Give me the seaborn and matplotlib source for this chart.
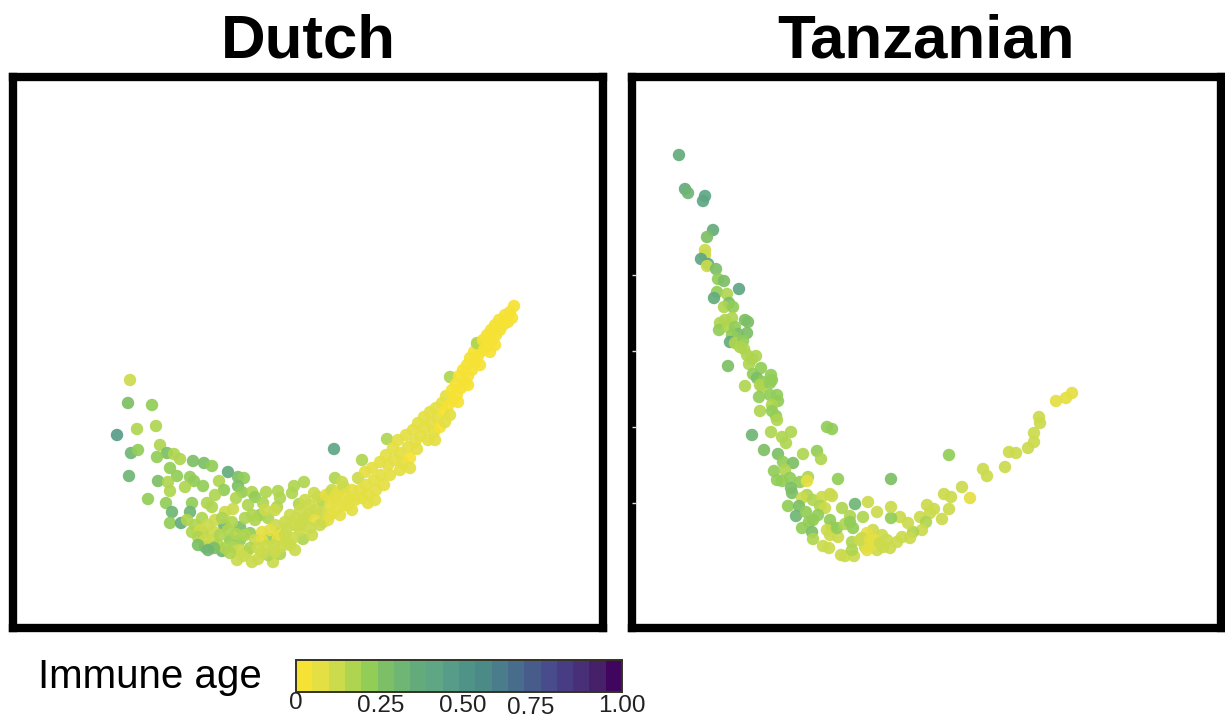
import matplotlib
matplotlib.use('Agg')
import matplotlib.pyplot as plt
import seaborn as sns
import pandas as pd
from matplotlib.colors import ListedColormap, BoundaryNorm
from matplotlib.cm import ScalarMappable

# values, x / y in panel units, age 0-1
dutch_x = [130, 128, 152, 137, 156, 117, 131, 138, 129, 160, 167, 157, 174, 180, 193, 204, 212, 170, 177, 190,
           194, 158, 168, 170, 185, 203, 219, 228, 238, 244, 238, 224, 148, 166, 215, 207, 242, 236, 252, 255,
           266, 278, 292, 294, 304, 280, 263, 248, 233, 225, 212, 192, 190, 172, 170, 181, 187, 202, 224, 240,
           260, 277, 299, 314, 322, 335, 334, 192, 203, 214, 205, 222, 210, 237, 252, 258, 273, 268, 280, 303,
           247, 230, 240, 250, 262, 280, 270, 290, 287, 303, 310, 323, 330,
           195, 200, 208, 215, 222, 232, 245, 255, 268, 275, 285, 295, 300, 198, 205, 213, 220, 228, 236, 245,
           255, 262, 270, 278, 285, 293, 218, 225, 233, 240, 250, 258, 266, 274, 282, 290, 295, 262, 275, 243,
           230, 198, 214, 208,
           305, 310, 316, 322, 330, 336, 300, 306, 315, 330, 336, 345, 350, 310, 300,
           318, 326, 332, 338, 328, 320, 340, 352, 368, 344, 335, 312, 296, 287, 275, 265, 252,
           342, 345, 348, 352, 355, 358, 360, 362, 365, 366, 368, 372, 374, 376, 380, 381, 384, 386, 387, 362,
           388, 390, 393, 395, 398, 400, 403, 406, 408, 410, 413, 415, 417, 418, 421, 424, 425, 428,
           430, 431, 434, 436, 438, 440, 442, 444, 446, 448, 450, 452, 453, 450,
           456, 457, 459, 461, 463, 465, 467, 468, 470, 472, 474, 475, 477, 478, 480, 477,
           483, 484, 487, 488, 491, 492, 495, 496, 499, 500, 503, 505, 508, 510, 514, 512,
           490, 480, 495, 468, 458, 445, 435, 410, 400, 375]
dutch_y = [380, 403, 405, 429, 426, 435, 453, 450, 476, 445, 453, 457, 454, 459, 461, 463, 466, 468, 476, 477,
           481, 481, 482, 491, 487, 486, 481, 472, 477, 478, 486, 490, 499, 503, 495, 503, 492, 498, 492, 497,
           492, 491, 493, 486, 482, 498, 503, 505, 509, 512, 507, 503, 512, 512, 523, 523, 520, 518, 525, 527,
           515, 507, 504, 493, 501, 478, 449, 532, 533, 532, 547, 551, 547, 560, 562, 559, 562, 555, 554, 539,
           552, 540, 540, 533, 532, 533, 539, 515, 542, 520, 513, 522, 493,
           525, 530, 525, 520, 518, 522, 518, 520, 518, 525, 522, 525, 530, 537, 540, 540, 535, 530, 534, 535,
           540, 540, 530, 538, 535, 538, 545, 548, 547, 550, 548, 548, 546, 545, 546, 545, 550, 553, 552, 556,
           553, 545, 548, 550,
           500, 505, 510, 512, 505, 500, 510, 518, 520, 515, 510, 505, 500, 528, 525,
           497, 495, 490, 492, 520, 525, 515, 510, 503, 487, 497, 535, 518, 528, 510, 510, 515,
           482, 495, 505, 490, 500, 478, 490, 498, 472, 485, 495, 468, 480, 490, 462, 475, 485, 455, 439, 460,
           465, 475, 448, 460, 440, 453, 463, 435, 447, 458, 430, 442, 449, 423, 436, 417, 428, 440,
           412, 423, 432, 408, 418, 427, 403, 412, 396, 406, 415, 390, 400, 377,
           384, 394, 376, 388, 370, 382, 365, 376, 358, 370, 352, 362, 345, 356, 350, 343,
           340, 350, 335, 345, 330, 340, 325, 335, 320, 330, 325, 315, 322, 312, 306, 318,
           352, 365, 345, 385, 402, 422, 440, 468, 470, 500]
dutch_age = [.13, .28, .22, .18, .15, .45, .30, .20, .30, .17, .28, .20, .17, .17, .27, .27, .20, .20, .20, .20,
             .20, .25, .16, .18, .18, .20, .17, .38, .27, .20, .25, .20, .20, .20, .17, .17, .20, .18, .18, .20,
             .18, .17, .17, .17, .17, .17, .17, .17, .14, .14, .18, .20, .30, .30, .20, .38, .15, .15, .30, .25,
             .20, .17, .16, .14, .17, .16, .43, .15, .15, .10, .30, .30, .20, .14, .14, .14, .12, .15, .18, .18,
             .14, .20, .20, .20, .08, .08, .20, .14, .10, .10, .10, .10, .12,
             .15, .14, .13, .14, .16, .18, .16, .18, .16, .14, .14, .10, .10, .16, .14, .14, .18, .16, .18, .18,
             .14, .08, .08, .08, .10, .12, .16, .16, .15, .14, .16, .10, .10, .10, .12, .12, .12, .14, .14, .14,
             .15, .25, .25, .30,
             .12, .12, .10, .10, .09, .08, .10, .10, .09, .08, .07, .08, .08, .12, .12,
             .10, .09, .10, .09, .09, .10, .09, .08, .07, .10, .08, .14, .10, .10, .12, .14, .16,
             .10, .09, .09, .08, .09, .12, .07, .08, .09, .07, .08, .08, .06, .07, .07, .06, .06, .08, .15, .16,
             .06, .05, .07, .05, .08, .05, .05, .06, .05, .04, .05, .05, .05, .06, .05, .07, .06, .05,
             .06, .05, .05, .05, .05, .04, .05, .04, .05, .04, .05, .04, .03, .17,
             .04, .03, .04, .03, .03, .04, .03, .03, .04, .03, .03, .03, .04, .03, .03, .15,
             .03, .03, .04, .03, .03, .03, .04, .03, .03, .03, .03, .03, .03, .03, .03, .03,
             .03, .04, .03, .04, .04, .05, .05, .06, .06, .08]

tanz_x = [679, 685, 688, 705, 703, 713, 707, 705, 705, 701, 708, 707, 716, 718, 724, 739, 717, 714, 727, 729,
          724, 733, 720, 725, 732, 719, 728, 735, 745, 748, 747, 738, 732, 730, 735, 743, 740, 744, 747, 756,
          752, 749, 728, 761, 753, 757, 771, 772, 763, 745, 762,
          760, 770, 759, 770, 777, 778, 772, 760, 772, 776, 777, 752, 771, 791, 782, 786, 827, 832, 764,
          778, 803, 817, 821, 783, 793, 774, 785, 790, 777, 782, 800, 808, 807, 838, 891, 949, 791, 792,
          983, 987, 1005, 1009, 1016, 1028, 1034, 1034, 1040, 1039, 1056, 1066, 1072, 962, 970, 944, 951, 949, 942,
          927, 934, 930, 920, 926, 922, 913, 910, 908, 900, 891, 891, 877, 868, 855, 863, 842, 850, 832, 830,
          807, 802, 813, 822, 820, 825, 788, 799, 796, 806, 818, 813, 809, 830, 832, 802, 812, 813, 827, 830,
          838, 837, 845, 850, 853, 823, 829, 841, 845, 854, 852, 852, 860, 865, 877, 890, 897, 902, 887, 882,
          873, 867, 862, 870, 875, 867, 872, 880, 883]
tanz_y = [155, 189, 193, 196, 201, 230, 237, 250, 255, 259, 264, 266, 269, 279, 281, 289, 292, 298, 294, 303,
          307, 307, 323, 320, 318, 330, 327, 327, 320, 322, 333, 334, 335, 342, 343, 341, 347, 349, 355, 356,
          359, 364, 366, 368, 374, 378, 375, 380, 382, 386, 387,
          385, 383, 397, 395, 395, 401, 405, 411, 411, 416, 420, 435, 432, 432, 437, 443, 427, 429, 450,
          454, 454, 451, 459, 462, 463, 471, 470, 478, 480, 481, 482, 477, 481, 479, 479, 455, 488, 493,
          469, 476, 467, 452, 453, 448, 442, 433, 423, 417, 401, 398, 393, 487, 498, 494, 497, 509, 519,
          505, 509, 513, 517, 522, 530, 532, 538, 523, 517, 518, 507, 512, 502, 504, 517, 508, 516, 496, 494,
          495, 498, 500, 497, 506, 508, 506, 506, 516, 512, 515, 520, 522, 520, 527, 528, 532, 539, 530, 535,
          537, 528, 524, 522, 528, 546, 548, 555, 556, 556, 550, 542, 540, 547, 550, 548, 542, 537, 540, 535,
          530, 533, 538, 540, 540, 550, 545, 543, 547]
tanz_age = [.38, .38, .30, .42, .42, .36, .25, .14, .14, .42, .42, .14, .27, .20, .25, .42, .24, .38, .17, .25,
            .17, .20, .18, .18, .18, .20, .18, .20, .28, .28, .25, .25, .22, .38, .17, .20, .17, .17, .17, .17,
            .17, .17, .27, .24, .20, .25, .22, .20, .20, .15, .15,
            .18, .22, .22, .20, .20, .20, .18, .17, .20, .20, .18, .30, .17, .15, .15, .17, .22, .20, .27,
            .25, .15, .20, .18, .24, .25, .24, .15, .20, .22, .20, .20, .17, .08, .20, .25, .20, .25, .27,
            .12, .12, .10, .13, .10, .10, .10, .10, .10, .10, .08, .08, .08, .10, .06, .14, .14, .14, .14,
            .10, .10, .10, .13, .17, .10, .17, .10, .10, .10, .22, .14, .14, .14, .32, .17, .17, .17, .14, .14,
            .18, .14, .15, .14, .15, .14, .24, .27, .33, .20, .20, .20, .20, .20, .20, .22, .27, .15, .10, .14,
            .13, .22, .17, .22, .20, .13, .13, .13, .13, .13, .17, .15, .10, .10, .10, .10, .10, .10, .10, .10,
            .10, .08, .10, .08, .08, .08, .08, .10, .10]

panel_names = ['Dutch', 'Tanzanian']
tanz_ticks = [275, 351, 427, 503]
bar_labels = ['0', '0.25', '0.50', '0.75', '1.00']
bar_label_pos = [0.0, 0.26, 0.51, 0.72, 1.0]
bar_label_drop = [0, 3, 3, 5, 3]

# the 20 steps of the colour bar, as seen in the picture
bar_colors = ['#f6e234', '#e4df42', '#cbdb4c', '#afd550', '#92cd58', '#7cbf66', '#6fb574', '#64ab7c', '#5ea684',
              '#579c88', '#4f9288', '#4c8a88', '#4a7c8c', '#486c8c', '#485c8c', '#484c8c', '#483c84', '#482f78',
              '#462068', '#40055f']

W, H = 1225, 719
plt.rcParams['font.family'] = ['Liberation Sans', 'DejaVu Sans']

cmap = ListedColormap(bar_colors)
norm = BoundaryNorm([i / 20 for i in range(21)], 20)

df_d = pd.DataFrame({'x': dutch_x, 'y': dutch_y, 'age': dutch_age})
df_t = pd.DataFrame({'x': tanz_x, 'y': tanz_y, 'age': tanz_age})

fig = plt.figure(figsize=(W / 100, H / 100), dpi=100)


def px_axes(x0, y0, x1, y1):
    return fig.add_axes([x0 / W, 1 - y1 / H, (x1 - x0) / W, (y1 - y0) / H])


ax1 = px_axes(13, 77, 603, 628)
ax2 = px_axes(632, 77, 1221, 628)

for ax, df, name, xlim in [(ax1, df_d, panel_names[0], (13, 603)), (ax2, df_t, panel_names[1], (632, 1221))]:
    sns.scatterplot(data=df, x='x', y='y', hue='age', palette=cmap, hue_norm=norm, legend=False,
                    s=80, linewidth=0, alpha=0.92, ax=ax)
    ax.set_xlim(*xlim)
    ax.set_ylim(628, 77)
    ax.set_xlabel('')
    ax.set_ylabel('')
    ax.set_xticks([])
    ax.set_yticks([])
    for s in ax.spines.values():
        s.set_linewidth(6.0)
        s.set_color('black')
    ax.text(0.5, 1.0 + 7 / 551, name, transform=ax.transAxes, ha='center', va='bottom', fontsize=44.5,
            fontweight='bold')

# small pale ticks sitting on the right panel's frame
ax2.set_axisbelow(False)
ax2.set_yticks(tanz_ticks)
ax2.set_yticklabels([])
ax2.tick_params(axis='y', direction='in', length=3, width=1, color='#dddddd', pad=0)

cax = px_axes(296, 660, 622, 692)
cbar = fig.colorbar(ScalarMappable(norm=norm, cmap=cmap), cax=cax, orientation='horizontal', ticks=[], drawedges=False)
cax.minorticks_off()
cbar.outline.set_linewidth(1.4)
cbar.outline.set_edgecolor('#333322')

for lab, pos, drop in zip(bar_labels, bar_label_pos, bar_label_drop):
    fig.text((296 + pos * 326) / W, 1 - (703 + drop) / H, lab, ha='center', va='center', fontsize=17.5,
             color='#222222')

fig.text(38 / W, 1 - 677 / H, 'Immune age', ha='left', va='center', fontsize=29)

plt.savefig('out.png', dpi=100, facecolor='white')
